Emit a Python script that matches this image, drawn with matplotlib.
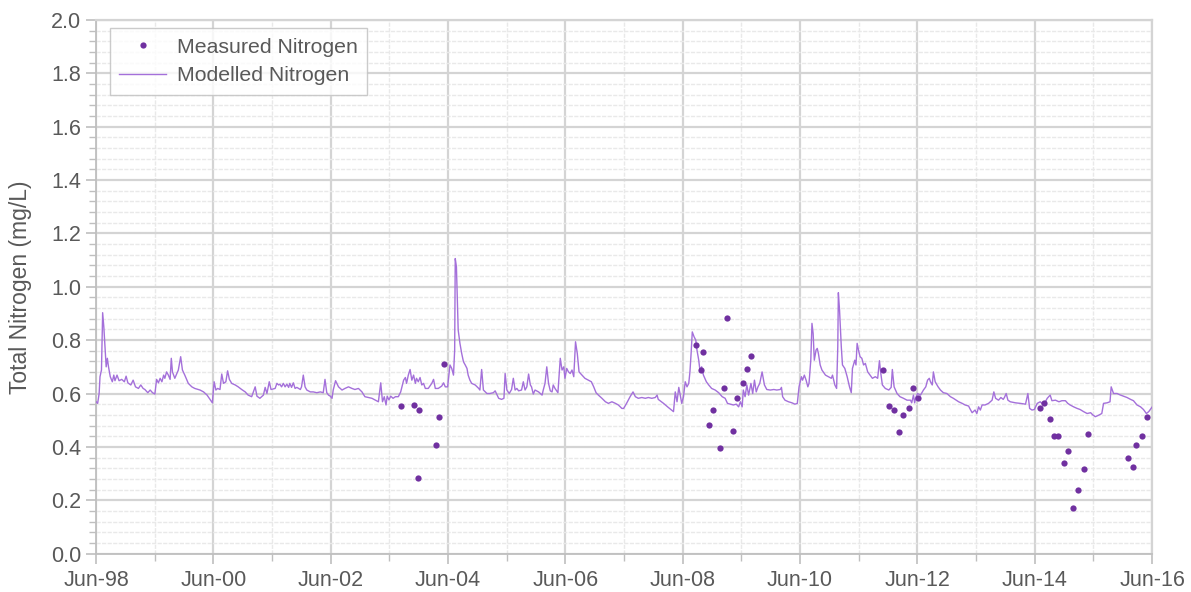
import numpy as np
import matplotlib
matplotlib.use("Agg")
import matplotlib.pyplot as plt
from matplotlib.ticker import MultipleLocator, FixedLocator, FormatStrFormatter

plt.rcParams['font.family'] = ['Liberation Sans', 'DejaVu Sans']

# time in decimal years, values in mg/L
model_t = [
    1998.42, 1998.445, 1998.47, 1998.485, 1998.51, 1998.53, 1998.55, 1998.57, 1998.59, 1998.61,
    1998.63, 1998.66, 1998.695, 1998.72, 1998.74, 1998.775, 1998.81, 1998.855, 1998.90, 1998.93,
    1998.96, 1999.01, 1999.05, 1999.09, 1999.14, 1999.18, 1999.22, 1999.25, 1999.30, 1999.34,
    1999.38, 1999.42, 1999.45, 1999.48, 1999.51, 1999.54, 1999.57, 1999.59, 1999.62, 1999.65,
    1999.68, 1999.70, 1999.72, 1999.76, 1999.82, 1999.86, 1999.89, 1999.93, 1999.99, 2000.05,
    2000.10, 2000.19, 2000.25, 2000.31, 2000.36, 2000.40, 2000.43, 2000.46, 2000.49, 2000.53,
    2000.56, 2000.59, 2000.63, 2000.66, 2000.69, 2000.73, 2000.79, 2000.84, 2000.90, 2000.96,
    2001.01, 2001.07, 2001.13, 2001.16, 2001.21, 2001.27, 2001.30, 2001.33, 2001.37, 2001.40,
    2001.47, 2001.50, 2001.53, 2001.55, 2001.58, 2001.61, 2001.64, 2001.67, 2001.70, 2001.72,
    2001.75, 2001.78, 2001.81, 2001.84, 2001.90, 2001.92, 2001.95, 2001.98, 2002.01, 2002.07,
    2002.12, 2002.18, 2002.24, 2002.29, 2002.32, 2002.35, 2002.38, 2002.41, 2002.44, 2002.46,
    2002.50, 2002.55, 2002.61, 2002.66, 2002.72, 2002.78, 2002.83, 2002.89, 2002.95, 2003.00,
    2003.06, 2003.12, 2003.17, 2003.23, 2003.27, 2003.30, 2003.33, 2003.36, 2003.38, 2003.41,
    2003.44, 2003.48, 2003.52, 2003.57, 2003.61, 2003.66, 2003.69, 2003.71, 2003.74, 2003.77,
    2003.80, 2003.83, 2003.86, 2003.88, 2003.91, 2003.94, 2003.97, 2004.00, 2004.03, 2004.08,
    2004.14, 2004.17, 2004.20, 2004.25, 2004.31, 2004.34, 2004.37, 2004.41, 2004.45, 2004.48,
    2004.51, 2004.53, 2004.54, 2004.56, 2004.58, 2004.59, 2004.62, 2004.65, 2004.68, 2004.71,
    2004.74, 2004.76, 2004.79, 2004.82, 2004.88, 2004.94, 2004.96, 2004.99, 2005.02, 2005.08,
    2005.13, 2005.19, 2005.22, 2005.28, 2005.33, 2005.37, 2005.39, 2005.42, 2005.46, 2005.50,
    2005.53, 2005.56, 2005.59, 2005.62, 2005.67, 2005.70, 2005.73, 2005.76, 2005.79, 2005.82,
    2005.84, 2005.87, 2005.90, 2005.96, 2006.02, 2006.04, 2006.07, 2006.10, 2006.13, 2006.16,
    2006.19, 2006.21, 2006.24, 2006.29, 2006.33, 2006.36, 2006.39, 2006.41, 2006.44, 2006.47,
    2006.50, 2006.53, 2006.56, 2006.59, 2006.62, 2006.65, 2006.70, 2006.75, 2006.81, 2006.86,
    2006.90, 2006.94, 2006.98, 2007.04, 2007.10, 2007.15, 2007.21, 2007.27, 2007.32, 2007.38,
    2007.41, 2007.46, 2007.52, 2007.57, 2007.61, 2007.66, 2007.72, 2007.78, 2007.83, 2007.89,
    2007.95, 2007.98, 2008.00, 2008.09, 2008.17, 2008.26, 2008.29, 2008.32, 2008.35, 2008.37,
    2008.40, 2008.43, 2008.46, 2008.49, 2008.52, 2008.54, 2008.56, 2008.58, 2008.61, 2008.64,
    2008.66, 2008.69, 2008.71, 2008.74, 2008.77, 2008.82, 2008.86, 2008.91, 2008.97, 2009.03,
    2009.09, 2009.14, 2009.18, 2009.23, 2009.28, 2009.33, 2009.37, 2009.40, 2009.43, 2009.45,
    2009.48, 2009.51, 2009.54, 2009.58, 2009.61, 2009.64, 2009.67, 2009.70, 2009.73, 2009.77,
    2009.81, 2009.85, 2009.91, 2009.97, 2010.02, 2010.08, 2010.10, 2010.12, 2010.16, 2010.22,
    2010.28, 2010.33, 2010.37, 2010.40, 2010.44, 2010.46, 2010.49, 2010.52, 2010.55, 2010.57,
    2010.60, 2010.62, 2010.64, 2010.66, 2010.69, 2010.71, 2010.73, 2010.76, 2010.79, 2010.85,
    2010.90, 2010.95, 2010.97, 2011.01, 2011.04, 2011.06, 2011.07, 2011.09, 2011.12, 2011.14,
    2011.18, 2011.22, 2011.26, 2011.29, 2011.31, 2011.35, 2011.37, 2011.39, 2011.42, 2011.44,
    2011.47, 2011.50, 2011.53, 2011.57, 2011.61, 2011.65, 2011.70, 2011.74, 2011.77, 2011.79,
    2011.82, 2011.87, 2011.93, 2011.97, 2011.99, 2012.02, 2012.07, 2012.12, 2012.18, 2012.24,
    2012.30, 2012.32, 2012.35, 2012.37, 2012.39, 2012.42, 2012.47, 2012.52, 2012.56, 2012.59,
    2012.62, 2012.64, 2012.67, 2012.69, 2012.72, 2012.77, 2012.81, 2012.86, 2012.92, 2012.98,
    2013.03, 2013.12, 2013.18, 2013.23, 2013.29, 2013.31, 2013.35, 2013.40, 2013.43, 2013.46,
    2013.49, 2013.52, 2013.57, 2013.63, 2013.69, 2013.72, 2013.75, 2013.80, 2013.84, 2013.88,
    2013.90, 2013.93, 2013.96, 2014.00, 2014.09, 2014.17, 2014.26, 2014.30, 2014.33, 2014.37,
    2014.41, 2014.46, 2014.51, 2014.57, 2014.63, 2014.68, 2014.71, 2014.77, 2014.83, 2014.88,
    2014.94, 2014.98, 2015.02, 2015.08, 2015.14, 2015.19, 2015.25, 2015.31, 2015.37, 2015.41,
    2015.45, 2015.51, 2015.56, 2015.59, 2015.65, 2015.70, 2015.72, 2015.76, 2015.82, 2015.88,
    2015.93, 2015.99, 2016.05, 2016.10, 2016.16, 2016.22, 2016.27, 2016.32, 2016.36, 2016.42,
]
model_n = [
    0.569, 0.563, 0.600, 0.663, 0.688, 0.903, 0.850, 0.775, 0.700, 0.732,
    0.700, 0.663, 0.644, 0.669, 0.648, 0.669, 0.648, 0.653, 0.644, 0.665,
    0.640, 0.632, 0.650, 0.625, 0.619, 0.632, 0.619, 0.615, 0.603, 0.613,
    0.603, 0.598, 0.653, 0.640, 0.657, 0.644, 0.669, 0.657, 0.681, 0.669,
    0.653, 0.732, 0.681, 0.657, 0.688, 0.738, 0.688, 0.669, 0.638, 0.625,
    0.619, 0.613, 0.606, 0.594, 0.578, 0.565, 0.644, 0.613, 0.619, 0.615,
    0.673, 0.638, 0.644, 0.685, 0.653, 0.638, 0.632, 0.625, 0.615, 0.606,
    0.594, 0.588, 0.625, 0.590, 0.582, 0.594, 0.623, 0.600, 0.644, 0.615,
    0.619, 0.638, 0.632, 0.635, 0.625, 0.638, 0.625, 0.635, 0.623, 0.638,
    0.623, 0.640, 0.619, 0.623, 0.615, 0.625, 0.669, 0.625, 0.613, 0.606,
    0.606, 0.603, 0.606, 0.603, 0.653, 0.603, 0.594, 0.590, 0.582, 0.613,
    0.648, 0.625, 0.613, 0.619, 0.625, 0.619, 0.615, 0.619, 0.606, 0.588,
    0.585, 0.582, 0.576, 0.569, 0.640, 0.569, 0.588, 0.557, 0.590, 0.576,
    0.590, 0.582, 0.588, 0.588, 0.606, 0.650, 0.660, 0.638, 0.669, 0.690,
    0.650, 0.669, 0.638, 0.657, 0.644, 0.660, 0.632, 0.638, 0.619, 0.619,
    0.638, 0.653, 0.619, 0.619, 0.628, 0.640, 0.625, 0.625, 0.707, 0.694,
    0.669, 0.763, 1.106, 1.075, 0.925, 0.838, 0.788, 0.750, 0.719, 0.707,
    0.694, 0.669, 0.650, 0.638, 0.632, 0.619, 0.613, 0.690, 0.613, 0.600,
    0.600, 0.603, 0.610, 0.582, 0.578, 0.582, 0.675, 0.613, 0.600, 0.615,
    0.657, 0.613, 0.619, 0.610, 0.613, 0.644, 0.613, 0.625, 0.673, 0.632,
    0.625, 0.598, 0.613, 0.606, 0.594, 0.613, 0.638, 0.700, 0.638, 0.610,
    0.606, 0.632, 0.619, 0.603, 0.732, 0.688, 0.700, 0.657, 0.694, 0.681,
    0.675, 0.688, 0.663, 0.794, 0.750, 0.681, 0.669, 0.657, 0.650, 0.644,
    0.625, 0.603, 0.594, 0.582, 0.569, 0.563, 0.569, 0.563, 0.557, 0.544,
    0.544, 0.563, 0.588, 0.606, 0.588, 0.582, 0.585, 0.582, 0.585, 0.582,
    0.585, 0.594, 0.578, 0.563, 0.548, 0.532, 0.606, 0.569, 0.623, 0.600,
    0.563, 0.588, 0.644, 0.625, 0.638, 0.681, 0.750, 0.831, 0.813, 0.800,
    0.763, 0.725, 0.688, 0.700, 0.669, 0.644, 0.632, 0.619, 0.613, 0.603,
    0.588, 0.582, 0.563, 0.560, 0.557, 0.560, 0.550, 0.569, 0.550, 0.613,
    0.588, 0.632, 0.594, 0.638, 0.600, 0.650, 0.606, 0.625, 0.638, 0.681,
    0.632, 0.615, 0.613, 0.615, 0.613, 0.615, 0.623, 0.588, 0.575, 0.569,
    0.565, 0.560, 0.563, 0.625, 0.663, 0.650, 0.669, 0.650, 0.625, 0.638,
    0.725, 0.863, 0.825, 0.725, 0.763, 0.769, 0.750, 0.707, 0.688, 0.669,
    0.663, 0.657, 0.669, 0.632, 0.619, 0.775, 0.978, 0.913, 0.775, 0.707,
    0.694, 0.663, 0.625, 0.603, 0.694, 0.725, 0.707, 0.788, 0.756, 0.738,
    0.732, 0.707, 0.713, 0.681, 0.669, 0.657, 0.663, 0.657, 0.723, 0.681,
    0.632, 0.619, 0.613, 0.623, 0.690, 0.625, 0.600, 0.588, 0.582, 0.575,
    0.575, 0.565, 0.594, 0.565, 0.585, 0.600, 0.594, 0.613, 0.625, 0.650,
    0.657, 0.644, 0.632, 0.681, 0.644, 0.625, 0.613, 0.603, 0.600, 0.588,
    0.582, 0.569, 0.563, 0.557, 0.553, 0.544, 0.528, 0.538, 0.525, 0.550,
    0.538, 0.557, 0.557, 0.563, 0.575, 0.606, 0.582, 0.575, 0.585, 0.578,
    0.585, 0.600, 0.575, 0.569, 0.565, 0.563, 0.560, 0.600, 0.544, 0.538,
    0.540, 0.563, 0.569, 0.557, 0.582, 0.594, 0.573, 0.575, 0.569, 0.573,
    0.573, 0.563, 0.557, 0.550, 0.544, 0.540, 0.532, 0.525, 0.528, 0.519,
    0.513, 0.519, 0.525, 0.563, 0.565, 0.569, 0.625, 0.600, 0.600, 0.594,
    0.590, 0.585, 0.578, 0.573, 0.557, 0.550, 0.540, 0.525, 0.532, 0.550,
]

meas_t = [2003.62, 2003.83, 2003.93, 2004.27, 2004.21, 2003.90, 2004.35,
          2009.17, 2008.64, 2008.77, 2008.73, 2009.12, 2009.58, 2009.51, 2009.44,
          2009.34, 2008.93, 2008.86, 2009.27, 2009.05,
          2011.83, 2012.34, 2012.43, 2011.93, 2012.01, 2012.27, 2012.18, 2012.11,
          2014.50, 2014.58, 2014.67, 2014.75, 2014.82, 2014.99, 2014.91, 2015.33,
          2015.26, 2015.16, 2015.07, 2016.33, 2016.25, 2016.15, 2016.01, 2016.10]
meas_n = [0.552, 0.557, 0.540, 0.513, 0.406, 0.282, 0.710,
          0.884, 0.781, 0.756, 0.688, 0.621, 0.741, 0.692, 0.638,
          0.583, 0.538, 0.482, 0.459, 0.394,
          0.688, 0.621, 0.583, 0.553, 0.538, 0.544, 0.520, 0.455,
          0.544, 0.564, 0.505, 0.440, 0.440, 0.383, 0.340, 0.448,
          0.317, 0.239, 0.171, 0.513, 0.440, 0.406, 0.357, 0.325]

tick_years = [1998, 2000, 2002, 2004, 2006, 2008, 2010, 2012, 2014, 2016]
tick_labels = ['Jun-%02d' % (y % 100) for y in tick_years]
JUN = 5.0 / 12

grey = '#595959'
fig = plt.figure(figsize=(11.91, 5.92), dpi=100)
ax = fig.add_axes([0.0806, 0.065, 0.8867, 0.901])

ax.plot(model_t, model_n, color='#a470da', lw=1.0, label='Modelled Nitrogen', zorder=3)
ax.plot(meas_t, meas_n, 'o', color='#7030a0', ms=4.5, mec='none', label='Measured Nitrogen', zorder=4)

ax.set_xlim(1998 + JUN, 2016 + JUN)
ax.set_ylim(0, 2.0)
ax.xaxis.set_major_locator(FixedLocator([y + JUN for y in tick_years]))
ax.xaxis.set_minor_locator(FixedLocator([y + 1 + JUN for y in tick_years[:-1]]))
ax.set_xticklabels(tick_labels)
ax.yaxis.set_major_locator(MultipleLocator(0.2))
ax.yaxis.set_minor_locator(MultipleLocator(0.04))
ax.yaxis.set_major_formatter(FormatStrFormatter('%.1f'))

ax.grid(which='major', color='#d4d4d4', lw=1.6, ls='-', zorder=0)
ax.grid(which='minor', color='#e9e9e9', lw=1.0, ls=(0, (3, 1)), zorder=0)
ax.set_axisbelow(True)

for s in ['top', 'right']:
    ax.spines[s].set_color('#d4d4d4')
    ax.spines[s].set_linewidth(1.6)
for s in ['left', 'bottom']:
    ax.spines[s].set_color('#bfbfbf')
    ax.spines[s].set_linewidth(1.3)

ax.tick_params(axis='both', which='major', colors='#bfbfbf', labelcolor=grey,
               labelsize=15.5, length=7, width=1.2)
ax.tick_params(axis='both', which='minor', colors='#bfbfbf', length=5, width=1.0)
ax.tick_params(axis='x', which='both', pad=5)

ax.set_ylabel('Total Nitrogen (mg/L)', fontsize=16.5, color=grey, labelpad=14)

handles, labels = ax.get_legend_handles_labels()
leg = ax.legend(handles[::-1], labels[::-1], loc='upper left', bbox_to_anchor=(0.013, 0.985),
                borderaxespad=0, fontsize=15.3, frameon=True, fancybox=False,
                handlelength=2.2, handletextpad=0.5, borderpad=0.45, labelspacing=0.45)
leg.get_frame().set_edgecolor('#bfbfbf')
leg.get_frame().set_linewidth(1.0)
for t in leg.get_texts():
    t.set_color(grey)

fig.savefig('out.png', dpi=100)
